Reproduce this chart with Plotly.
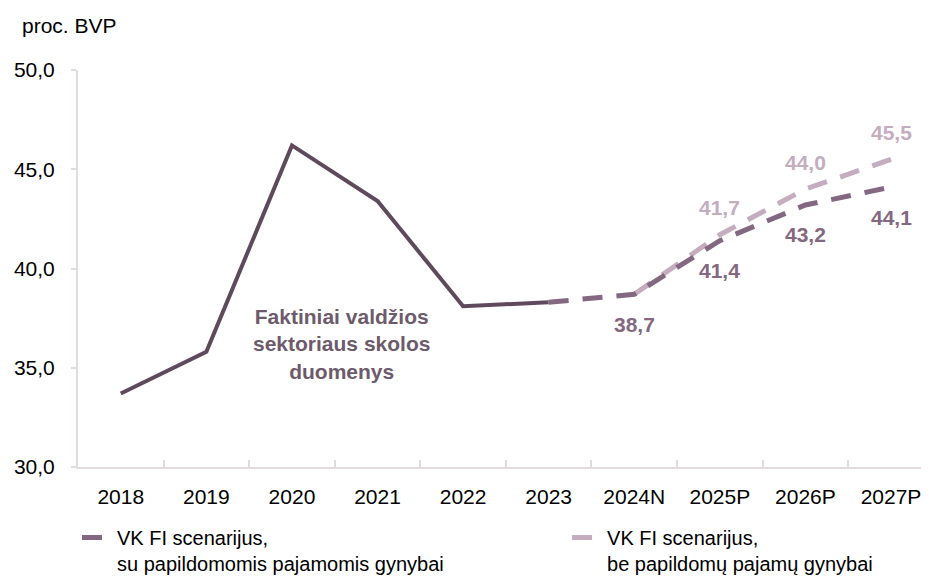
import plotly.graph_objects as go

# categories on the x axis
years = ["2018", "2019", "2020", "2021", "2022", "2023", "2024N", "2025P", "2026P", "2027P"]

# actual general government debt, % of GDP
actual_x = ["2018", "2019", "2020", "2021", "2022", "2023"]
actual_y = [33.7, 35.8, 46.2, 43.4, 38.1, 38.3]

# scenario with additional defence revenue
with_x = ["2023", "2024N", "2025P", "2026P", "2027P"]
with_y = [38.3, 38.7, 41.4, 43.2, 44.1]
with_lbl_x = ["2024N", "2025P", "2026P", "2027P"]
with_lbl_y = [38.7, 41.4, 43.2, 44.1]

# scenario without additional defence revenue
without_x = ["2024N", "2025P", "2026P", "2027P"]
without_y = [38.7, 41.7, 44.0, 45.5]
without_lbl_x = ["2025P", "2026P", "2027P"]
without_lbl_y = [41.7, 44.0, 45.5]

C_ACT = "#5f4a5d"
C_WITH = "#846780"
C_WITHOUT = "#c3adbf"
FONT = "Liberation Sans, Arial, sans-serif"

fig = go.Figure()

fig.add_trace(go.Scatter(
    x=actual_x, y=actual_y, mode="lines", showlegend=False,
    line=dict(color=C_ACT, width=4), hoverinfo="skip"
))

fig.add_trace(go.Scatter(
    x=without_x, y=without_y, mode="lines",
    name="VK FI scenarijus,<br>be papildomų pajamų gynybai",
    line=dict(color=C_WITHOUT, width=5, dash="20px,14px"),
    legend="legend2"
))

fig.add_trace(go.Scatter(
    x=with_x, y=with_y, mode="lines",
    name="VK FI scenarijus,<br>su papildomomis pajamomis gynybai",
    line=dict(color=C_WITH, width=5, dash="20px,14px"),
    legend="legend"
))

annotations = []
for xv, yv in zip(with_lbl_x, with_lbl_y):
    annotations.append(dict(
        x=xv, y=yv, text=f"<b>{yv:.1f}</b>".replace(".", ","),
        showarrow=False, yshift=-30, font=dict(size=21, color=C_WITH, family=FONT)
    ))
for xv, yv in zip(without_lbl_x, without_lbl_y):
    annotations.append(dict(
        x=xv, y=yv, text=f"<b>{yv:.1f}</b>".replace(".", ","),
        showarrow=False, yshift=27, font=dict(size=21, color=C_WITHOUT, family=FONT)
    ))

annotations.append(dict(
    x=2.58, y=36.2, xref="x", yref="y",
    text="<b>Faktiniai valdžios<br>sektoriaus skolos<br>duomenys</b>",
    showarrow=False, align="center",
    font=dict(size=21, color="#6d5a6b", family=FONT)
))
annotations.append(dict(
    x=-0.068, y=1.113, xref="paper", yref="paper", xanchor="left", yanchor="middle",
    text="proc. BVP", showarrow=False,
    font=dict(size=21, color="#000000", family=FONT)
))

# page body has an 8px margin, so the figure is sized to fit inside the window
fig.update_layout(
    width=921, height=575,
    margin=dict(l=70, r=0, t=62, b=116),
    plot_bgcolor="white", paper_bgcolor="white",
    separators=", ",
    font=dict(family=FONT, size=21, color="#000000"),
    annotations=annotations,
    xaxis=dict(
        type="category", categoryorder="array", categoryarray=years,
        range=[-0.5, 9.444], automargin=False,
        showline=True, linecolor="#e3dbdf", linewidth=2,
        ticks="inside", ticklen=7, tickcolor="#e3dbdf", tickwidth=1.5,
        tickson="boundaries", showgrid=False, zeroline=False,
        ticklabelstandoff=10,
    ),
    yaxis=dict(
        range=[30, 50], tickvals=[30, 35, 40, 45, 50], tickformat=".1f",
        automargin=False,
        showline=True, linecolor="#e3dbdf", linewidth=2,
        ticks="outside", ticklen=5, tickcolor="#e3dbdf", tickwidth=1.5,
        showgrid=False, zeroline=False, ticklabelstandoff=12,
    ),
    legend=dict(
        orientation="h", xref="container", yref="container",
        x=0.0749, y=0.113, xanchor="left", yanchor="top",
        font=dict(size=20, family=FONT), valign="top", bgcolor="rgba(0,0,0,0)"
    ),
    legend2=dict(
        orientation="h", xref="container", yref="container",
        x=0.607, y=0.113, xanchor="left", yanchor="top",
        font=dict(size=20, family=FONT), valign="top", bgcolor="rgba(0,0,0,0)"
    ),
)

fig.write_html("out.html")
